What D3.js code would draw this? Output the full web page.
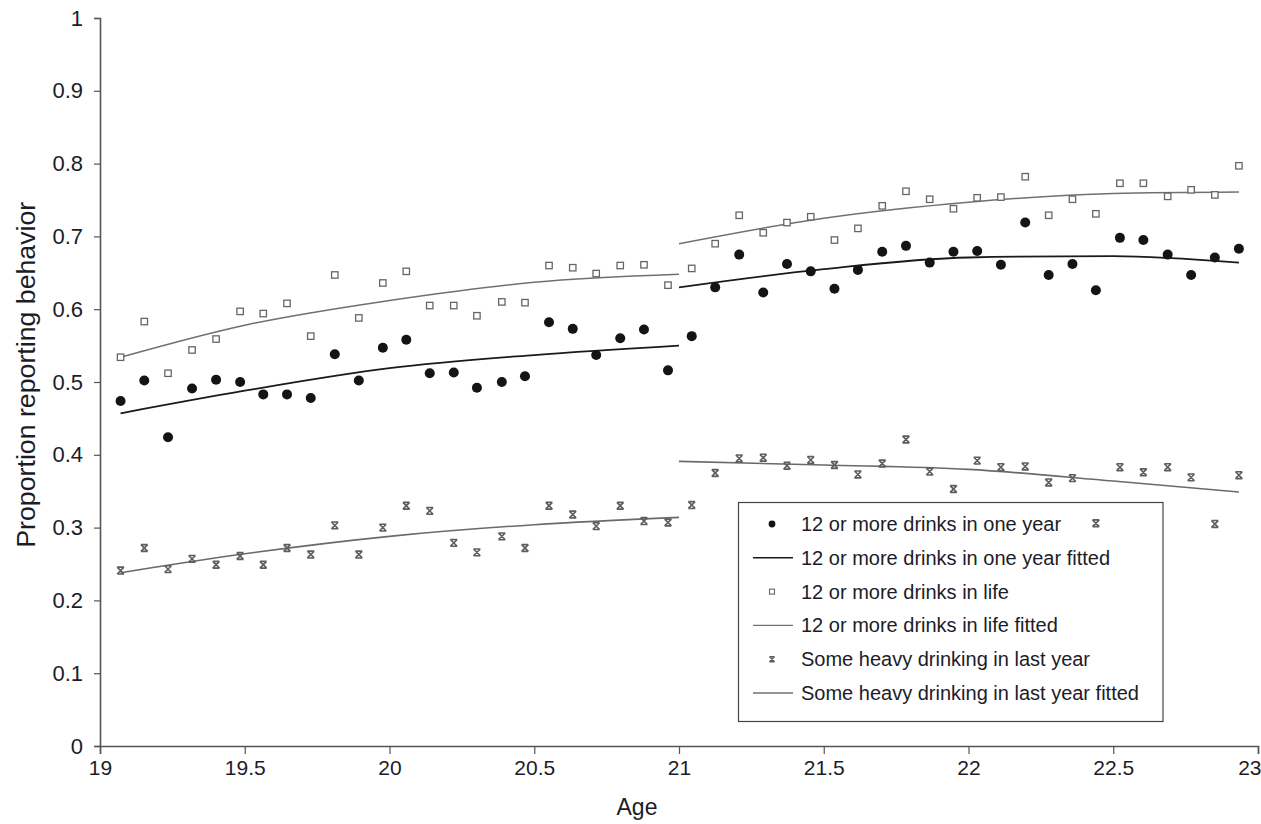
<!DOCTYPE html>
<html>
<head>
<meta charset="utf-8">
<script src="https://cdn.jsdelivr.net/npm/d3@7"></script>
<style>
  html, body { margin: 0; padding: 0; background: #fff; }
  svg { display: block; font-family: "Liberation Sans", Arial, Helvetica, sans-serif; }
</style>
</head>
<body>
<svg id="chart" width="1261" height="824"></svg>
<script>
// ---- data ----
const agesLeft = [19.071, 19.153, 19.235, 19.318, 19.401, 19.484, 19.564, 19.646, 19.728, 19.811, 19.894, 19.977,
                  20.058, 20.139, 20.222, 20.302, 20.388, 20.468, 20.551, 20.633, 20.714, 20.797, 20.879, 20.962];
const agesRight = [21.044, 21.125, 21.208, 21.291, 21.373, 21.455, 21.537, 21.618, 21.702, 21.784, 21.866, 21.948,
                   22.030, 22.112, 22.196, 22.277, 22.359, 22.440, 22.523, 22.604, 22.688, 22.769, 22.851, 22.934];

const oneYearLeft = [0.474, 0.502, 0.424, 0.491, 0.503, 0.500, 0.483, 0.483, 0.478, 0.538, 0.502, 0.547,
                     0.558, 0.512, 0.513, 0.492, 0.500, 0.508, 0.582, 0.573, 0.537, 0.560, 0.572, 0.516];
const oneYearRight = [0.563, 0.630, 0.675, 0.623, 0.662, 0.652, 0.628, 0.654, 0.679, 0.687, 0.664, 0.679,
                      0.680, 0.661, 0.719, 0.647, 0.662, 0.626, 0.698, 0.695, 0.675, 0.647, 0.671, 0.683];

const lifeLeft = [0.534, 0.583, 0.512, 0.544, 0.559, 0.597, 0.594, 0.608, 0.563, 0.647, 0.588, 0.636,
                  0.652, 0.605, 0.605, 0.591, 0.610, 0.609, 0.660, 0.657, 0.649, 0.660, 0.661, 0.633];
const lifeRight = [0.656, 0.690, 0.729, 0.705, 0.719, 0.727, 0.695, 0.711, 0.742, 0.762, 0.751, 0.738,
                   0.753, 0.754, 0.782, 0.729, 0.751, 0.731, 0.773, 0.773, 0.755, 0.764, 0.757, 0.797];

const heavyLeft = [0.241, 0.272, 0.243, 0.257, 0.249, 0.261, 0.249, 0.272, 0.263, 0.303, 0.263, 0.300,
                   0.330, 0.323, 0.279, 0.266, 0.288, 0.272, 0.330, 0.318, 0.302, 0.330, 0.309, 0.307];
const heavyRight = [0.331, 0.375, 0.395, 0.396, 0.385, 0.393, 0.386, 0.373, 0.388, 0.421, 0.377, 0.353,
                    0.392, 0.383, 0.384, 0.362, 0.368, 0.306, 0.383, 0.376, 0.383, 0.369, 0.305, 0.372];

// fitted curves, read at a few ages per segment
const fitAgesLeft = [19.071, 19.5, 20.0, 20.5, 21.0];
const fitAgesRight = [21.0, 21.5, 22.0, 22.5, 22.934];
const oneYearFitLeft = [0.457, 0.488, 0.519, 0.537, 0.550];
const oneYearFitRight = [0.630, 0.655, 0.671, 0.673, 0.664];
const lifeFitLeft = [0.534, 0.578, 0.612, 0.637, 0.648];
const lifeFitRight = [0.690, 0.725, 0.747, 0.759, 0.761];
const heavyFitLeft = [0.238, 0.264, 0.288, 0.304, 0.314];
const heavyFitRight = [0.391, 0.386, 0.380, 0.364, 0.349];

const xTicks = [19, 19.5, 20, 20.5, 21, 21.5, 22, 22.5, 23];
const yTicks = [0, 0.1, 0.2, 0.3, 0.4, 0.5, 0.6, 0.7, 0.8, 0.9, 1];
const legendLabels = ["12 or more drinks in one year", "12 or more drinks in one year fitted",
                      "12 or more drinks in life", "12 or more drinks in life fitted",
                      "Some heavy drinking in last year", "Some heavy drinking in last year fitted"];
const xTitle = "Age";
const yTitle = "Proportion reporting behavior";

// ---- drawing ----
const svg = d3.select("#chart");
const x = d3.scaleLinear().domain([19, 23]).range([100, 1258]);
const y = d3.scaleLinear().domain([0, 1]).range([746, 18]);
const axisColor = "#555";
const textColor = "#1c1c28";

// axes
const gx = svg.append("g").attr("transform", "translate(0,746)")
  .call(d3.axisBottom(x).tickValues(xTicks).tickSize(8).tickPadding(6).tickFormat(d3.format("")));
gx.select(".domain").attr("stroke", axisColor).attr("stroke-width", 1.6);
gx.selectAll(".tick line").attr("stroke", axisColor).attr("stroke-width", 1.2);
gx.selectAll(".tick text").attr("font-size", 21).attr("fill", textColor)
  .attr("font-family", "'Liberation Sans', Arial, sans-serif");
gx.selectAll(".tick text").filter(d => d === 23).attr("text-anchor", "end").attr("dx", 3);

const gy = svg.append("g").attr("transform", "translate(100,0)")
  .call(d3.axisLeft(y).tickValues(yTicks).tickSize(6).tickPadding(11).tickFormat(d => d === 0 || d === 1 ? String(d) : d3.format(".1f")(d)));
gy.select(".domain").attr("stroke", axisColor).attr("stroke-width", 1.6);
gy.selectAll(".tick line").attr("stroke", axisColor).attr("stroke-width", 1.2);
gy.selectAll(".tick text").attr("font-size", 22).attr("fill", textColor)
  .attr("font-family", "'Liberation Sans', Arial, sans-serif");

svg.append("text").attr("x", x(21) - 42).attr("y", 815).attr("text-anchor", "middle")
  .attr("font-size", 23).attr("fill", textColor).text(xTitle);
svg.append("text").attr("transform", `translate(35,${y(0.51)}) rotate(-90)`).attr("text-anchor", "middle")
  .attr("font-size", 25).attr("textLength", 346).attr("lengthAdjust", "spacingAndGlyphs")
  .attr("fill", textColor).text(yTitle);

// fitted lines
const line = d3.line().x(d => x(d[0])).y(d => y(d[1])).curve(d3.curveMonotoneX);
const fits = [
  { ages: fitAgesLeft, vals: heavyFitLeft, color: "#6a6a6a", w: 1.6 },
  { ages: fitAgesRight, vals: heavyFitRight, color: "#6a6a6a", w: 1.6 },
  { ages: fitAgesLeft, vals: lifeFitLeft, color: "#707070", w: 1.5 },
  { ages: fitAgesRight, vals: lifeFitRight, color: "#707070", w: 1.5 },
  { ages: fitAgesLeft, vals: oneYearFitLeft, color: "#1a1a1a", w: 1.8 },
  { ages: fitAgesRight, vals: oneYearFitRight, color: "#1a1a1a", w: 1.8 }
];
fits.forEach(f => {
  svg.append("path").datum(d3.zip(f.ages, f.vals))
    .attr("d", line).attr("fill", "none").attr("stroke", f.color).attr("stroke-width", f.w);
});

// markers
const crossPath = s => `M${-s},${-s}L${s},${s}M${-s},${s}L${s},${-s}M${-s},${-s}H${s}M${-s},${s}H${s}`;

function drawCircles(ages, vals) {
  svg.append("g").selectAll("circle").data(d3.zip(ages, vals)).join("circle")
    .attr("cx", d => x(d[0])).attr("cy", d => y(d[1])).attr("r", 5).attr("fill", "#141414");
}
function drawSquares(ages, vals) {
  svg.append("g").selectAll("rect").data(d3.zip(ages, vals)).join("rect")
    .attr("x", d => x(d[0]) - 3.2).attr("y", d => y(d[1]) - 3.2).attr("width", 6.4).attr("height", 6.4)
    .attr("fill", "#fff").attr("stroke", "#666").attr("stroke-width", 1.3);
}
function drawCrosses(ages, vals) {
  svg.append("g").selectAll("path").data(d3.zip(ages, vals)).join("path")
    .attr("transform", d => `translate(${x(d[0])},${y(d[1])})`).attr("d", crossPath(3.4))
    .attr("fill", "none").attr("stroke", "#5e5e5e").attr("stroke-width", 1.6);
}
drawSquares(agesLeft, lifeLeft); drawSquares(agesRight, lifeRight);
drawCircles(agesLeft, oneYearLeft); drawCircles(agesRight, oneYearRight);

// legend (drawn before heavy crosses so the data crosses sit on top, as in the reference)
const lg = svg.append("g");
lg.append("rect").attr("x", 738.5).attr("y", 502.5).attr("width", 424.5).attr("height", 219)
  .attr("fill", "#fff").attr("stroke", "#444").attr("stroke-width", 1.2);
legendLabels.forEach((lab, i) => {
  const cy = 524 + i * 33.8;
  const sx = 772;
  if (i === 0) lg.append("circle").attr("cx", sx).attr("cy", cy).attr("r", 3.4).attr("fill", "#141414");
  else if (i === 2) lg.append("rect").attr("x", sx - 2.5).attr("y", cy - 2.5).attr("width", 5).attr("height", 5)
    .attr("fill", "#fff").attr("stroke", "#666").attr("stroke-width", 1.1);
  else if (i === 4) lg.append("path").attr("transform", `translate(${sx},${cy})`).attr("d", crossPath(2.6))
    .attr("fill", "none").attr("stroke", "#5e5e5e").attr("stroke-width", 1.4);
  else lg.append("line").attr("x1", 753).attr("x2", 793).attr("y1", cy).attr("y2", cy)
    .attr("stroke", i === 1 ? "#1a1a1a" : "#707070").attr("stroke-width", i === 1 ? 1.6 : 1.4);
  lg.append("text").attr("x", 801).attr("y", cy).attr("dy", "0.35em")
    .attr("font-size", 20).attr("fill", textColor).text(lab);
});

drawCrosses(agesLeft, heavyLeft); drawCrosses(agesRight, heavyRight);
</script>
</body>
</html>
